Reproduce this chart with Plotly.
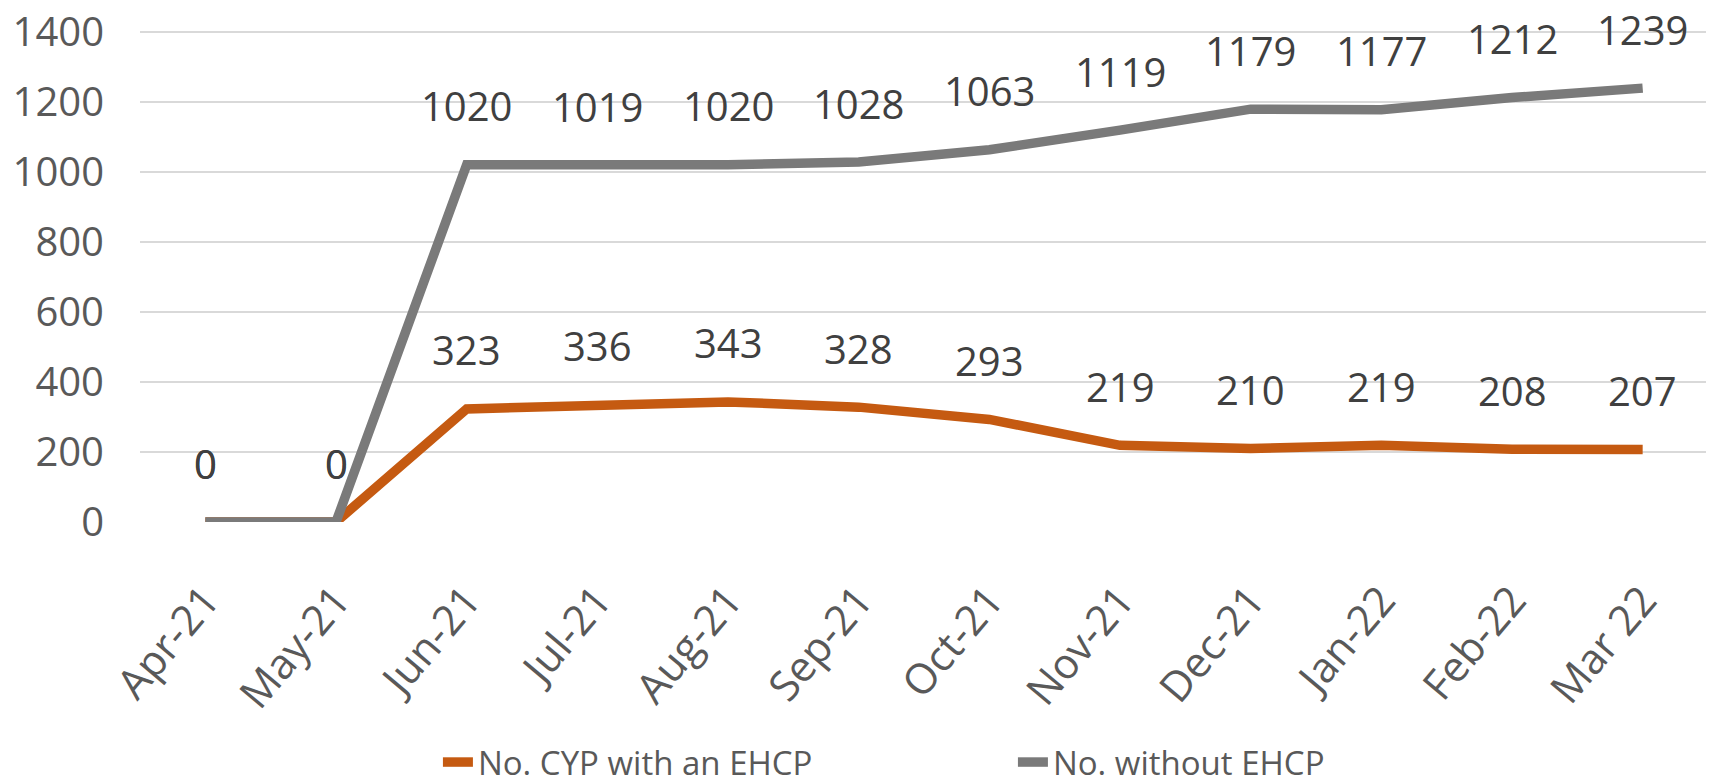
import plotly.graph_objects as go

months = ["Apr-21", "May-21", "Jun-21", "Jul-21", "Aug-21", "Sep-21",
          "Oct-21", "Nov-21", "Dec-21", "Jan-22", "Feb-22", "Mar 22"]
with_ehcp = [0, 0, 323, 336, 343, 328, 293, 219, 210, 219, 208, 207]
without_ehcp = [0, 0, 1020, 1019, 1020, 1028, 1063, 1119, 1179, 1177, 1212, 1239]
y_ticks = [0, 200, 400, 600, 800, 1000, 1200, 1400]

ORANGE = "#C55A11"
GRAY = "#7A7A7A"
FONT = "Open Sans"

fig = go.Figure()
fig.add_trace(go.Scatter(x=months, y=with_ehcp, mode="lines", name="No. CYP with an EHCP",
                         line=dict(color=ORANGE, width=9.5)))
fig.add_trace(go.Scatter(x=months, y=without_ehcp, mode="lines", name="No. without EHCP",
                         line=dict(color=GRAY, width=9.5)))

annotations = []
for series in (with_ehcp, without_ehcp):
    for m, v in zip(months, series):
        annotations.append(dict(x=m, y=v, xref="x", yref="y", text=str(v), showarrow=False,
                                yanchor="middle", xanchor="center", yshift=59,
                                font=dict(family=FONT, size=40, color="#404040")))

fig.update_layout(
    width=1706, height=782,
    margin=dict(l=132, r=6, t=22, b=268, autoexpand=False),
    paper_bgcolor="white", plot_bgcolor="white",
    font=dict(family=FONT, color="#595959"),
    annotations=annotations,
    showlegend=True,
    legend=dict(orientation="h", x=0.19, xanchor="left", y=-0.488, yanchor="middle",
                entrywidth=530, entrywidthmode="pixels",
                font=dict(family=FONT, size=33, color="#595959"),
                bgcolor="rgba(0,0,0,0)"),
    xaxis=dict(type="category", range=[-0.5, 11.5], showgrid=False, zeroline=False,
               showline=False, automargin=False, ticklabeloverflow="allow",
               tickangle=-50, ticks="", ticklabelstandoff=44,
               tickfont=dict(family=FONT, size=42, color="#595959")),
    yaxis=dict(range=[0, 1405], tickvals=y_ticks, showgrid=True, gridcolor="#D9D9D9",
               gridwidth=2, zeroline=False, showline=False, ticks="", automargin=False,
               ticklabelstandoff=35, ticklabeloverflow="allow",
               tickfont=dict(family=FONT, size=40, color="#595959")),
)

fig.write_html("out.html")
